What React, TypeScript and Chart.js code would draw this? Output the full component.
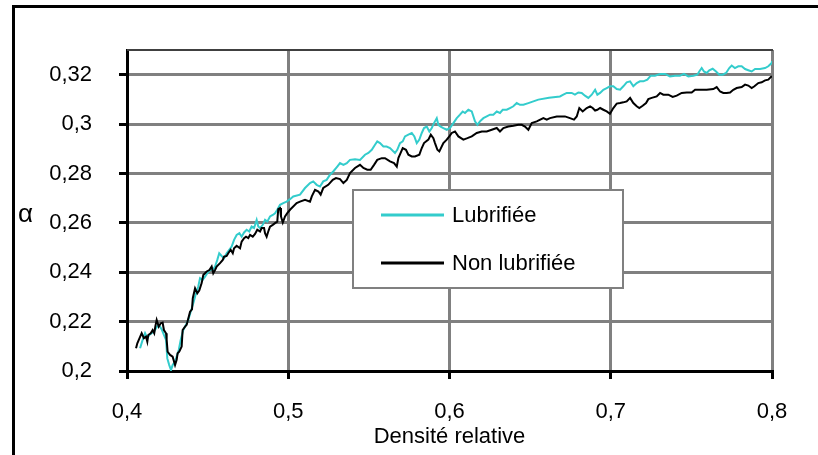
import React, { useEffect, useRef } from 'react';
import { Chart, registerables } from 'chart.js';

Chart.register(...registerables);

// ---- Data ----
const seriesNames = ['Lubrifiée', 'Non lubrifiée'];
const axisXTitle = 'Densité relative';
const axisYTitle = 'α';

const lubX = [
  0.4081, 0.4097, 0.4112, 0.4126, 0.4138, 0.4153, 0.4167, 0.4180, 0.4194, 0.4205,
  0.4217, 0.4229, 0.4242, 0.4250, 0.4262, 0.4273, 0.4283, 0.4298, 0.4308, 0.4321,
  0.4333, 0.4349, 0.4366, 0.4380, 0.4395, 0.4411, 0.4422, 0.4432, 0.4442, 0.4453,
  0.4469, 0.4484, 0.4498, 0.4515, 0.4531, 0.4546, 0.4560, 0.4572, 0.4587, 0.4602,
  0.4618, 0.4634, 0.4649, 0.4664, 0.4680, 0.4697, 0.4711, 0.4726, 0.4742, 0.4758,
  0.4773, 0.4788, 0.4804, 0.4814, 0.4825, 0.4842, 0.4856, 0.4870, 0.4887, 0.4904,
  0.4918, 0.4932, 0.4949, 0.4969, 0.4990, 0.5011, 0.5031, 0.5073,
  0.5104, 0.5135, 0.5155, 0.5176, 0.5197, 0.5217, 0.5238, 0.5259, 0.5279, 0.5304,
  0.5321, 0.5342, 0.5363, 0.5383, 0.5414, 0.5445, 0.5476, 0.5497, 0.5518, 0.5538,
  0.5552, 0.5569, 0.5590, 0.5610, 0.5631, 0.5662, 0.5676, 0.5693, 0.5710, 0.5724,
  0.5745, 0.5766, 0.5782, 0.5797, 0.5813, 0.5828, 0.5842, 0.5859, 0.5875, 0.5890,
  0.5904, 0.5921, 0.5931, 0.5945, 0.5962, 0.5983, 0.6003, 0.6024, 0.6045, 0.6065,
  0.6082, 0.6096, 0.6117, 0.6138, 0.6158, 0.6173, 0.6189, 0.6210, 0.6231, 0.6251,
  0.6272, 0.6293, 0.6313, 0.6330, 0.6355, 0.6375, 0.6396, 0.6417, 0.6437, 0.6458,
  0.6489, 0.6520, 0.6551, 0.6617,
  0.6685, 0.6706, 0.6727, 0.6758, 0.6778, 0.6799, 0.6820, 0.6840, 0.6861, 0.6882,
  0.6903, 0.6917, 0.6934, 0.6954, 0.6975, 0.6995, 0.7016, 0.7037, 0.7058, 0.7078,
  0.7099, 0.7120, 0.7140, 0.7161, 0.7181, 0.7202, 0.7227, 0.7248, 0.7274, 0.7306,
  0.7337, 0.7367, 0.7398, 0.7429, 0.7454, 0.7481, 0.7512, 0.7537, 0.7549, 0.7564,
  0.7578, 0.7595, 0.7611, 0.7632, 0.7653, 0.7673, 0.7694, 0.7715, 0.7735, 0.7750,
  0.7770, 0.7791, 0.7812, 0.7833, 0.7853, 0.7874, 0.7895, 0.7926, 0.7957, 0.7977,
  0.7998, 0.8000,
];
const lubY = [
  0.2092, 0.2126, 0.2153, 0.2133, 0.2146, 0.2153, 0.2159, 0.2173, 0.2187, 0.2180,
  0.2166, 0.2146, 0.2126, 0.2051, 0.2024, 0.2004, 0.2024, 0.2038, 0.2058, 0.2085,
  0.2126, 0.2166, 0.2187, 0.2207, 0.2240, 0.2274, 0.2301, 0.2322, 0.2342, 0.2376,
  0.2369, 0.2382, 0.2396, 0.2409, 0.2409, 0.2423, 0.2450, 0.2477, 0.2466, 0.2457,
  0.2477, 0.2491, 0.2504, 0.2531, 0.2551, 0.2558, 0.2544, 0.2561, 0.2572, 0.2565,
  0.2585, 0.2579, 0.2612, 0.2585, 0.2579, 0.2592, 0.2612, 0.2605, 0.2626, 0.2632,
  0.2639, 0.2653, 0.2673, 0.2680, 0.2686, 0.2696, 0.2707, 0.2714,
  0.2741, 0.2761, 0.2768, 0.2754, 0.2747, 0.2768, 0.2774, 0.2795, 0.2808, 0.2828,
  0.2842, 0.2835, 0.2842, 0.2855, 0.2858, 0.2855, 0.2876, 0.2883, 0.2896, 0.2916,
  0.2930, 0.2923, 0.2909, 0.2909, 0.2903, 0.2883, 0.2896, 0.2923, 0.2930, 0.2950,
  0.2957, 0.2964, 0.2950, 0.2923, 0.2937, 0.2964, 0.2984, 0.2990, 0.2970, 0.2984,
  0.3004, 0.3024, 0.2997, 0.2990, 0.2984, 0.2977, 0.2984, 0.3004, 0.3024, 0.3038,
  0.3051, 0.3045, 0.3058, 0.3051, 0.3011, 0.2997, 0.3011, 0.3024, 0.3031, 0.3038,
  0.3038, 0.3051, 0.3045, 0.3058, 0.3058, 0.3065, 0.3072, 0.3085, 0.3078, 0.3078,
  0.3085, 0.3092, 0.3099, 0.3107,
  0.3112, 0.3119, 0.3126, 0.3126, 0.3119, 0.3128, 0.3126, 0.3115, 0.3106, 0.3119,
  0.3139, 0.3119, 0.3126, 0.3139, 0.3146, 0.3153, 0.3153, 0.3142, 0.3139, 0.3153,
  0.3169, 0.3173, 0.3153, 0.3166, 0.3173, 0.3173, 0.3180, 0.3196, 0.3196, 0.3203,
  0.3203, 0.3193, 0.3196, 0.3196, 0.3203, 0.3193, 0.3196, 0.3200, 0.3213, 0.3227,
  0.3213, 0.3207, 0.3218, 0.3224, 0.3213, 0.3200, 0.3200, 0.3207, 0.3227, 0.3237,
  0.3227, 0.3234, 0.3234, 0.3223, 0.3218, 0.3213, 0.3223, 0.3223, 0.3227, 0.3234,
  0.3247, 0.3255,
];

const nonX = [
  0.4056, 0.4064, 0.4091, 0.4105, 0.4118, 0.4126, 0.4132, 0.4147, 0.4159, 0.4169,
  0.4176, 0.4184, 0.4197, 0.4209, 0.4221, 0.4229, 0.4242, 0.4246, 0.4252, 0.4267,
  0.4283, 0.4298, 0.4308, 0.4314, 0.4324, 0.4339, 0.4345, 0.4360, 0.4370, 0.4383,
  0.4391, 0.4403, 0.4408, 0.4422, 0.4436, 0.4448, 0.4463, 0.4473, 0.4494, 0.4511,
  0.4525, 0.4535, 0.4546, 0.4556, 0.4577, 0.4594, 0.4602, 0.4618, 0.4628, 0.4643,
  0.4656, 0.4664, 0.4680, 0.4701, 0.4711, 0.4726, 0.4738, 0.4752, 0.4763, 0.4780,
  0.4794, 0.4808, 0.4825, 0.4835, 0.4850, 0.4856, 0.4866, 0.4876, 0.4887, 0.4904,
  0.4918, 0.4932, 0.4938, 0.4949, 0.4955, 0.4966, 0.4980, 0.4994, 0.5011, 0.5031,
  0.5052, 0.5073,
  0.5104, 0.5135, 0.5146, 0.5166, 0.5187, 0.5201, 0.5217, 0.5248, 0.5276, 0.5296,
  0.5321, 0.5342, 0.5363, 0.5383, 0.5414, 0.5445, 0.5466, 0.5490, 0.5511, 0.5532,
  0.5552, 0.5580, 0.5600, 0.5631, 0.5656, 0.5673, 0.5683, 0.5697, 0.5710, 0.5730,
  0.5745, 0.5766, 0.5786, 0.5813, 0.5828, 0.5842, 0.5869, 0.5884, 0.5900, 0.5910,
  0.5925, 0.5937, 0.5962, 0.5983, 0.5999, 0.6014, 0.6034, 0.6055, 0.6086, 0.6111,
  0.6138, 0.6169, 0.6200, 0.6231, 0.6262, 0.6293, 0.6313, 0.6334, 0.6365, 0.6396,
  0.6427, 0.6448, 0.6468, 0.6489, 0.6510, 0.6541, 0.6582, 0.6603, 0.6623, 0.6665,
  0.6716, 0.6747, 0.6772, 0.6789, 0.6805, 0.6826, 0.6851, 0.6872, 0.6888, 0.6903,
  0.6917, 0.6934, 0.6954, 0.6975, 0.6995, 0.7016, 0.7037, 0.7058, 0.7078, 0.7099,
  0.7120, 0.7140, 0.7161, 0.7177, 0.7198, 0.7219, 0.7233, 0.7254, 0.7285, 0.7306,
  0.7326, 0.7357, 0.7384, 0.7409, 0.7440, 0.7471, 0.7502, 0.7523, 0.7554, 0.7595,
  0.7636, 0.7657, 0.7678, 0.7698, 0.7719, 0.7740, 0.7760, 0.7781, 0.7812, 0.7833,
  0.7853, 0.7874, 0.7891, 0.7915, 0.7936, 0.7957, 0.7977, 0.7994, 0.8000,
];
const nonY = [
  0.2092, 0.2112, 0.2153, 0.2133, 0.2139, 0.2119, 0.2146, 0.2153, 0.2166, 0.2153,
  0.2182, 0.2207, 0.2180, 0.2193, 0.2196, 0.2166, 0.2153, 0.2126, 0.2078, 0.2065,
  0.2058, 0.2024, 0.2045, 0.2072, 0.2078, 0.2099, 0.2166, 0.2180, 0.2187, 0.2220,
  0.2240, 0.2250, 0.2295, 0.2335, 0.2315, 0.2326, 0.2356, 0.2389, 0.2403, 0.2409,
  0.2423, 0.2396, 0.2409, 0.2423, 0.2437, 0.2450, 0.2463, 0.2466, 0.2477, 0.2491,
  0.2477, 0.2497, 0.2507, 0.2497, 0.2524, 0.2538, 0.2544, 0.2538, 0.2551, 0.2544,
  0.2555, 0.2572, 0.2565, 0.2579, 0.2579, 0.2558, 0.2544, 0.2565, 0.2585, 0.2592,
  0.2599, 0.2605, 0.2656, 0.2660, 0.2626, 0.2601, 0.2626, 0.2639, 0.2653, 0.2666,
  0.2680, 0.2686,
  0.2693, 0.2686, 0.2707, 0.2734, 0.2727, 0.2714, 0.2741, 0.2754, 0.2774, 0.2781,
  0.2777, 0.2761, 0.2774, 0.2802, 0.2822, 0.2835, 0.2822, 0.2815, 0.2815, 0.2835,
  0.2855, 0.2862, 0.2862, 0.2849, 0.2842, 0.2828, 0.2862, 0.2883, 0.2903, 0.2896,
  0.2876, 0.2869, 0.2869, 0.2876, 0.2903, 0.2923, 0.2937, 0.2957, 0.2943, 0.2923,
  0.2896, 0.2889, 0.2923, 0.2937, 0.2950, 0.2964, 0.2970, 0.2950, 0.2937, 0.2943,
  0.2950, 0.2964, 0.2970, 0.2970, 0.2977, 0.2984, 0.2970, 0.2984, 0.2990, 0.2993,
  0.2997, 0.2997, 0.2990, 0.2977, 0.3004, 0.3011, 0.3024, 0.3018, 0.3024, 0.3031,
  0.3031, 0.3024, 0.3018, 0.3031, 0.3065, 0.3051, 0.3065, 0.3072, 0.3065, 0.3055,
  0.3058, 0.3065, 0.3058, 0.3051, 0.3042, 0.3065, 0.3083, 0.3085, 0.3088, 0.3092,
  0.3106, 0.3085, 0.3072, 0.3065, 0.3074, 0.3085, 0.3101, 0.3106, 0.3112, 0.3126,
  0.3119, 0.3119, 0.3110, 0.3115, 0.3126, 0.3128, 0.3128, 0.3139, 0.3139, 0.3139,
  0.3142, 0.3150, 0.3132, 0.3126, 0.3126, 0.3128, 0.3139, 0.3146, 0.3150, 0.3160,
  0.3156, 0.3146, 0.3153, 0.3166, 0.3169, 0.3177, 0.3180, 0.3191, 0.3193,
];

const xMin = 0.4;
const xMax = 0.8;
const xStep = 0.1;
const yMin = 0.2;
const yMax = 0.33;
const yStep = 0.02;

const FONT = "'Liberation Sans', Arial, Helvetica, sans-serif";

const fmt = (v: number) => String(Math.round(v * 1000) / 1000).replace('.', ',');

const decorPlugin = {
  id: 'decor',
  beforeDraw(chart: any) {
    const ctx = chart.ctx;
    ctx.save();
    ctx.fillStyle = '#ffffff';
    ctx.fillRect(0, 0, chart.width, chart.height);
    // outer chart frame (only top and left visible in the crop)
    ctx.fillStyle = '#000000';
    ctx.fillRect(12, 5, chart.width - 12, 3);
    ctx.fillRect(12, 5, 3, chart.height - 5);
    ctx.restore();
  },
  afterDraw(chart: any) {
    const ctx = chart.ctx;
    const a = chart.chartArea;
    ctx.save();
    // plot area top edge
    ctx.strokeStyle = '#404040';
    ctx.lineWidth = 2;
    ctx.beginPath();
    ctx.moveTo(a.left, a.top);
    ctx.lineTo(a.right + 1, a.top);
    ctx.stroke();
    // y axis title, horizontal like Excel
    ctx.fillStyle = '#000';
    ctx.font = `26px ${FONT}`;
    ctx.textAlign = 'left';
    ctx.textBaseline = 'middle';
    ctx.fillText(axisYTitle, 18, 215);
    // legend box
    const lx = 353, ly = 190, lw = 270, lh = 98;
    ctx.fillStyle = '#ffffff';
    ctx.fillRect(lx, ly, lw, lh);
    ctx.strokeStyle = '#808080';
    ctx.lineWidth = 2;
    ctx.strokeRect(lx, ly, lw, lh);
    chart.data.datasets.forEach((ds: any, i: number) => {
      const y = 215 + i * 48;
      ctx.strokeStyle = ds.borderColor;
      ctx.lineWidth = 3;
      ctx.beginPath();
      ctx.moveTo(381, y);
      ctx.lineTo(444, y);
      ctx.stroke();
      ctx.fillStyle = '#000';
      ctx.font = `22px ${FONT}`;
      ctx.textAlign = 'left';
      ctx.textBaseline = 'middle';
      ctx.fillText(ds.label, 452, y + 1);
    });
    ctx.restore();
  },
};

export default function App() {
  const ref = useRef<HTMLCanvasElement | null>(null);
  useEffect(() => {
    if (!ref.current) return;
    Chart.defaults.font.family = FONT;
    Chart.defaults.font.size = 22;
    Chart.defaults.color = '#000';
    const chart = new Chart(ref.current, {
      type: 'line',
      data: {
        datasets: [
          {
            label: seriesNames[0],
            data: lubX.map((x, i) => ({ x, y: lubY[i] })),
            borderColor: '#33CCCC',
            borderWidth: 2,
            pointRadius: 0,
            tension: 0,
            fill: false,
            order: 1,
          },
          {
            label: seriesNames[1],
            data: nonX.map((x, i) => ({ x, y: nonY[i] })),
            borderColor: '#000000',
            borderWidth: 2,
            pointRadius: 0,
            tension: 0,
            fill: false,
            order: 0,
          },
        ],
      },
      options: {
        responsive: false,
        animation: false,
        events: [],
        layout: { padding: { left: 0, top: 50, right: 46, bottom: 5 } },
        plugins: { legend: { display: false }, tooltip: { enabled: false }, title: { display: false } },
        scales: {
          x: {
            type: 'linear',
            min: xMin,
            max: xMax,
            afterFit: (s: any) => { s.height = 79; },
            ticks: { stepSize: xStep, padding: 20, callback: (v: any) => fmt(Number(v)), maxRotation: 0, font: { size: 22 } },
            grid: { color: '#808080', lineWidth: 3, tickLength: 8, tickColor: '#000', tickWidth: 3 },
            border: { color: '#000', width: 3 },
            title: { display: true, text: axisXTitle, padding: { top: 0, bottom: 0 }, font: { size: 22 } },
          },
          y: {
            type: 'linear',
            min: yMin,
            max: yMax,
            afterFit: (s: any) => { s.width = 127; },
            ticks: { stepSize: yStep, includeBounds: false, padding: 27, callback: (v: any) => fmt(Number(v)), font: { size: 22 } },
            grid: { color: '#808080', lineWidth: 3, tickLength: 8, tickColor: '#000', tickWidth: 3 },
            border: { color: '#000', width: 3 },
          },
        },
      },
      plugins: [decorPlugin],
    });
    return () => chart.destroy();
  }, []);
  return (
    <div style={{ position: 'absolute', left: 0, top: 0, width: 818, height: 455 }}>
      <canvas ref={ref} width={818} height={455} style={{ width: 818, height: 455, display: 'block' }} />
    </div>
  );
}
